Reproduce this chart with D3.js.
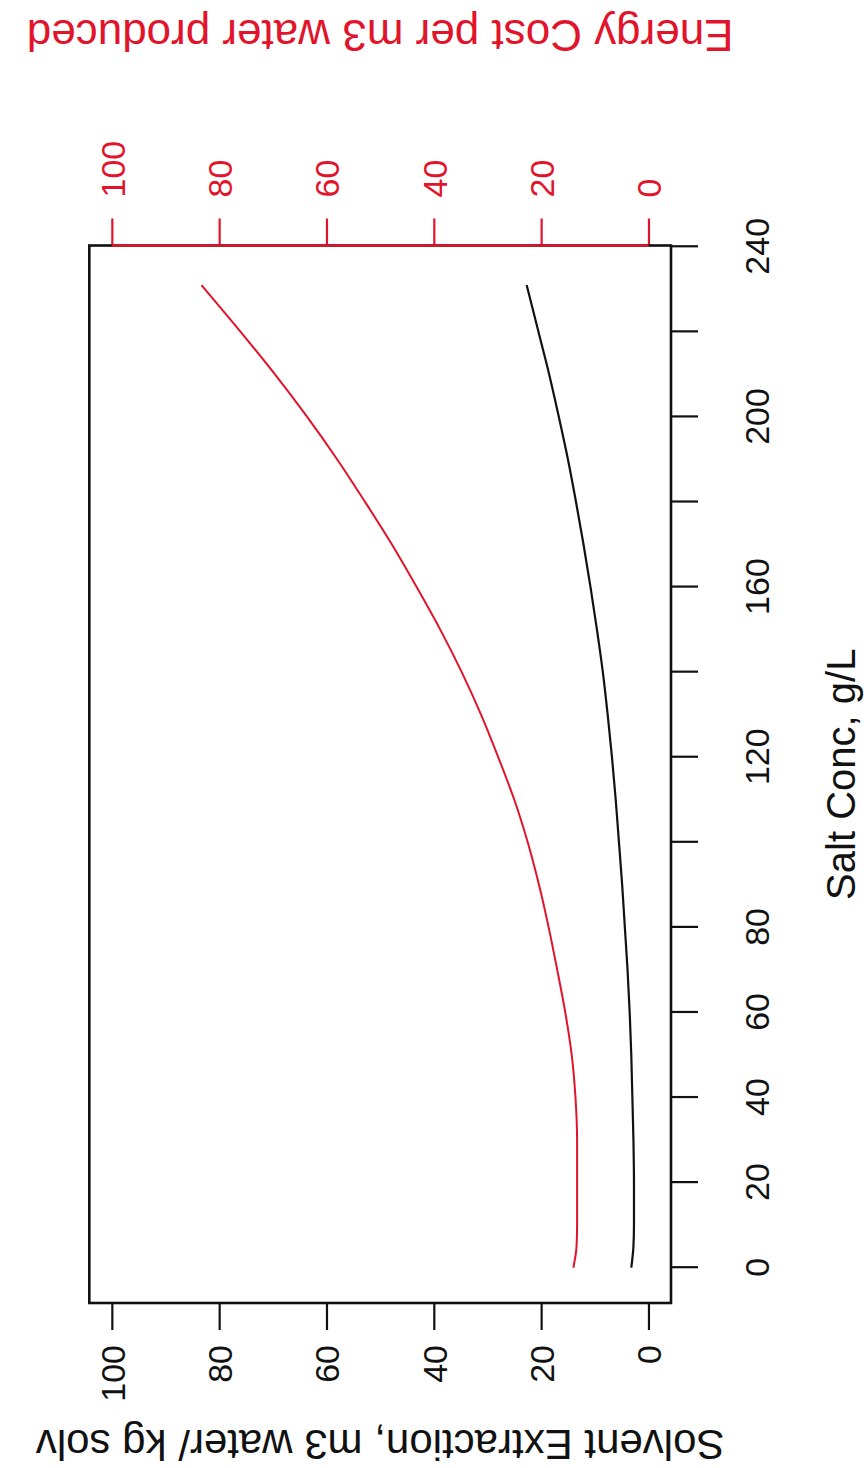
<!DOCTYPE html>
<html>
<head>
<meta charset="utf-8">
<script src="https://cdn.jsdelivr.net/npm/d3@7"></script>
<style>
  html, body { margin: 0; padding: 0; background: #fff; }
  svg { display: block; }
  text { font-family: "Liberation Sans", Arial, sans-serif; }
</style>
</head>
<body>
<svg id="chart" width="866" height="1468"></svg>
<script>
// Salt concentration (g/L) at which both quantities were evaluated
const saltConc = [0, 5, 10, 20, 30, 40, 50, 60, 70, 80, 90, 100, 110, 120,
                  130, 140, 150, 160, 170, 180, 190, 200, 210, 220, 231];
// Solvent extraction, m3 water / kg solvent (left axis, black)
const solventExtraction = [3.2, 2.8, 2.7, 2.7, 2.8, 3.0, 3.2, 3.5, 3.9, 4.4, 4.9, 5.5, 6.1, 6.8,
                           7.6, 8.5, 9.6, 10.8, 12.1, 13.5, 15.0, 16.7, 18.5, 20.5, 22.7];
// Energy cost per m3 of water produced (right axis, red)
const energyCost = [14.0, 13.4, 13.3, 13.3, 13.3, 13.6, 14.3, 15.5, 17.0, 18.6, 20.4, 22.5, 25.0, 28.0,
                    31.2, 34.8, 38.8, 43.2, 47.8, 52.8, 58.0, 63.6, 69.6, 76.0, 83.3];

const xTicks = [0, 20, 40, 60, 80, 100, 120, 140, 160, 180, 200, 220, 240];
const xTickLabels = [0, 20, 40, 60, 80, 120, 160, 200, 240];
const yTicks = [0, 20, 40, 60, 80, 100];

const xTitle = "Salt Conc, g/L";
const yTitle = "Solvent Extraction, m3 water/ kg solv";
const y2Title = "Energy Cost per m3 water produced";

const RED = "#e2142c";
const W = 1468, H = 866;          // plot drawn landscape, then turned a quarter turn
const box = { left: 165, right: 1222.5, top: 89.3, bottom: 671 };

const svg = d3.select("#chart");
svg.append("rect").attr("width", 866).attr("height", 1468).attr("fill", "#fff");

const g = svg.append("g").attr("transform", `translate(0,${W}) rotate(-90)`);

const x = d3.scaleLinear().domain([-8.3, 240.3]).range([box.left, box.right]);
const y = d3.scaleLinear().domain([-4.2, 104.2]).range([box.bottom, box.top]);
const y2 = d3.scaleLinear().domain([-4.2, 104.2]).range([box.bottom, box.top]);

const TICK = 27;

// bottom axis: salt concentration
const xAxis = g.append("g")
  .attr("transform", `translate(0,${box.bottom})`)
  .call(d3.axisBottom(x).tickValues(xTicks).tickSize(TICK).tickSizeOuter(0)
    .tickFormat(d => xTickLabels.includes(d) ? String(d) : ""));
xAxis.select(".domain").remove();
xAxis.selectAll("line").attr("stroke", "#111").attr("stroke-width", 2.2);
xAxis.selectAll("text").attr("y", 98).attr("dy", null)
  .attr("font-size", 34).attr("fill", "#111");

// left axis: solvent extraction
const yAxis = g.append("g")
  .attr("transform", `translate(${box.left},0)`)
  .call(d3.axisLeft(y).tickValues(yTicks).tickSize(TICK).tickSizeOuter(0));
yAxis.select(".domain").remove();
yAxis.selectAll("line").attr("stroke", "#111").attr("stroke-width", 2.2);
yAxis.selectAll("text").attr("x", -42).attr("dy", "0.36em")
  .attr("font-size", 34).attr("fill", "#111");

// right axis: energy cost (red)
const y2Axis = g.append("g")
  .attr("transform", `translate(${box.right},0)`)
  .call(d3.axisRight(y2).tickValues(yTicks).tickSize(TICK).tickSizeOuter(0));
y2Axis.select(".domain").remove();
y2Axis.selectAll("line").attr("stroke", RED).attr("stroke-width", 2.2);
y2Axis.selectAll("text").attr("x", 48).attr("dy", "0.36em")
  .attr("font-size", 34).attr("fill", RED);

// plot frame
g.append("rect")
  .attr("x", box.left).attr("y", box.top)
  .attr("width", box.right - box.left).attr("height", box.bottom - box.top)
  .attr("fill", "none").attr("stroke", "#111").attr("stroke-width", 2.6);

// red axis line spans the first to the last tick
g.append("line")
  .attr("x1", box.right).attr("x2", box.right)
  .attr("y1", y2(yTicks[0])).attr("y2", y2(yTicks[yTicks.length - 1]))
  .attr("stroke", RED).attr("stroke-width", 2.4);

// series
const pts = saltConc.map((s, i) => ({ s, se: solventExtraction[i], ec: energyCost[i] }));

g.append("path").datum(pts)
  .attr("fill", "none").attr("stroke", "#111").attr("stroke-width", 2.2)
  .attr("d", d3.line().x(d => x(d.s)).y(d => y(d.se)).curve(d3.curveMonotoneX));

g.append("path").datum(pts)
  .attr("fill", "none").attr("stroke", RED).attr("stroke-width", 2.0)
  .attr("d", d3.line().x(d => x(d.s)).y(d => y2(d.ec)).curve(d3.curveMonotoneX));

// axis titles
const cx = (box.left + box.right) / 2, cy = (box.top + box.bottom) / 2;

g.append("text").text(xTitle)
  .attr("x", cx).attr("y", 855).attr("text-anchor", "middle")
  .attr("font-size", 40).attr("fill", "#111");

g.append("text").text(yTitle)
  .attr("transform", `translate(38,${cy}) rotate(-90)`)
  .attr("text-anchor", "middle").attr("font-size", 42).attr("fill", "#111");

g.append("text").text(y2Title)
  .attr("transform", `translate(1448,${cy}) rotate(-90)`)
  .attr("text-anchor", "middle").attr("font-size", 44).attr("fill", RED);
</script>
</body>
</html>
